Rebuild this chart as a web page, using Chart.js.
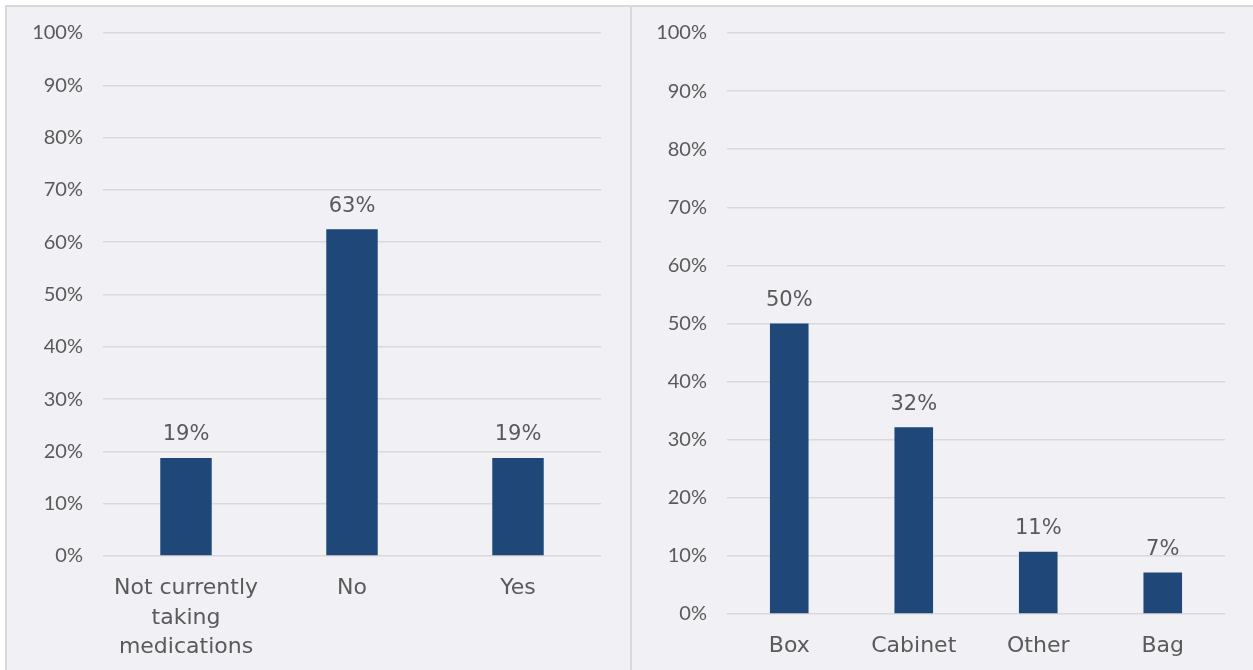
<!DOCTYPE html>
<html><head><meta charset="utf-8">
<script src="https://cdn.jsdelivr.net/npm/chart.js@4.4.1/dist/chart.umd.min.js"></script>
<style>
html,body{margin:0;padding:0;background:#ffffff;width:1253px;height:670px;overflow:hidden;}
.panel{position:absolute;top:5px;height:670px;background:#f0f0f5;border:2px solid #d9d9d9;box-sizing:border-box;}
#p1{left:5px;width:627px;}
#p2{left:630px;width:630px;}
.cv{position:absolute;top:0;}
#w1{left:0;width:630px;height:670px;}
#w2{left:631px;width:622px;height:670px;}
</style></head><body>
<div class="panel" id="p1"></div>
<div class="panel" id="p2"></div>
<div class="cv" id="w1"><canvas id="c1"></canvas></div>
<div class="cv" id="w2"><canvas id="c2"></canvas></div>
<script>
const leftCategories = [["Not currently","taking","medications"], "No", "Yes"];
const leftValues = [18.75, 62.5, 18.75];
const rightCategories = ["Box", "Cabinet", "Other", "Bag"];
const rightValues = [50, 32.14, 10.71, 7.14];
const yTickValues = [0,10,20,30,40,50,60,70,80,90,100];

const TICKFONT = "Lato, 'DejaVu Sans', sans-serif";
const LABELFONT = "'DejaVu Sans', sans-serif";
const TEXT = "#5a5a5a";
const BAR = "#1f4778";

const valueLabels = {
  id: 'valueLabels',
  afterDatasetsDraw(chart) {
    const ctx = chart.ctx;
    const meta = chart.getDatasetMeta(0);
    ctx.save();
    ctx.font = "21px " + LABELFONT;
    ctx.fillStyle = TEXT;
    ctx.textAlign = 'center';
    ctx.textBaseline = 'middle';
    meta.data.forEach((bar, i) => {
      const v = chart.data.datasets[0].data[i];
      ctx.fillText(Math.round(v) + '%', bar.x, bar.y - 23);
    });
    ctx.restore();
  }
};

function makeChart(id, cats, vals, yWidth, xHeight, padRight) {
  return new Chart(document.getElementById(id), {
    type: 'bar',
    data: { labels: cats, datasets: [{ data: vals, backgroundColor: BAR, borderWidth: 0, categoryPercentage: 1, barPercentage: 0.31 }] },
    options: {
      responsive: true, maintainAspectRatio: false, animation: false,
      layout: { padding: { top: 33, right: padRight, left: 0, bottom: 0 } },
      plugins: { legend: { display: false }, tooltip: { enabled: false } },
      scales: {
        x: {
          grid: { display: false, drawTicks: false },
          border: { display: false },
          ticks: { color: TEXT, font: { family: LABELFONT, size: 22, lineHeight: 1.34 }, padding: 18, maxRotation: 0, autoSkip: false },
          afterFit(s) { s.height = xHeight; }
        },
        y: {
          min: 0, max: 100,
          afterBuildTicks(s) { s.ticks = yTickValues.map(v => ({ value: v })); },
          grid: { color: '#d9d9d9', lineWidth: 1.5, drawTicks: false },
          border: { display: false },
          ticks: { color: TEXT, font: { family: TICKFONT, size: 20 }, padding: 20, callback: v => v + '%' },
          afterFit(s) { s.width = yWidth; }
        }
      }
    },
    plugins: [valueLabels]
  });
}
makeChart('c1', leftCategories, leftValues, 103, 114, 29);
makeChart('c2', rightCategories, rightValues, 96, 56, 28);
</script>
</body></html>
